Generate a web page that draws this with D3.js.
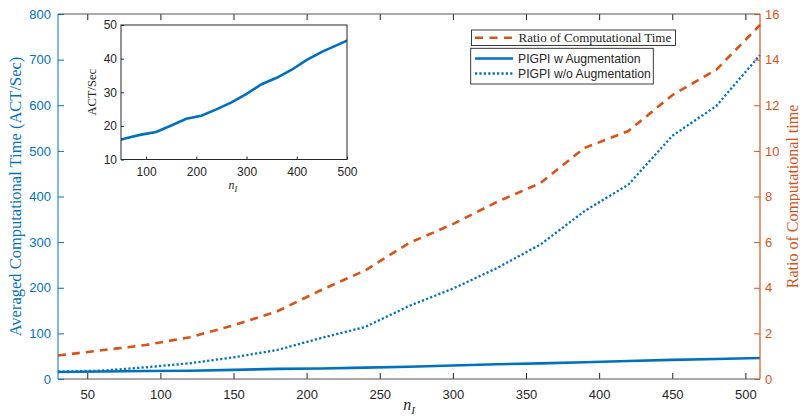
<!DOCTYPE html>
<html><head><meta charset="utf-8">
<script src="https://cdn.jsdelivr.net/npm/d3@7"></script>
<style>body{margin:0;background:#fff} svg{display:block}</style>
</head><body><svg id="c" width="800" height="419"></svg>
<script>
// ---- data ----
const nI = [30,60,90,120,150,180,210,240,270,300,330,360,390,420,450,480,510];
const actWith = [15.2,16.3,17.4,18.2,20.1,22.1,23.0,24.9,27.0,29.5,32.4,34.3,36.7,39.6,42.0,44.0,46.0];
const actWithout = [16,18.3,25.6,34.4,47.5,63.6,89.9,114,160,198,243,295,368,426,533,598,710];
const ratio = [1.03,1.26,1.49,1.83,2.35,2.97,3.9,4.76,5.96,6.79,7.76,8.59,10.13,10.87,12.44,13.55,15.52];
const xTicks = [50,100,150,200,250,300,350,400,450,500];
const leftTicks = [0,100,200,300,400,500,600,700,800];
const rightTicks = [0,2,4,6,8,10,12,14,16];
const insetXTicks = [100,200,300,400,500];
const insetYTicks = [10,20,30,40,50];
const leftTitle = "Averaged Computational Time (ACT/Sec)";
const rightTitle = "Ratio of Computational time";
const legend1 = ["Ratio of Computational Time"];
const legend2 = ["PIGPI w Augmentation","PIGPI w/o Augmentation"];

const BLUE = "#0072BD", ORANGE = "#D95319", DARK = "#262626";
const SANS = "'Liberation Sans', Arial, Helvetica, sans-serif";
const SERIF = "'Liberation Serif', 'Times New Roman', serif";

const svg = d3.select("#c");
const L = 58, R = 760, T = 14, B = 379;
const x = d3.scaleLinear().domain([30,510]).range([L,R]);
const yL = d3.scaleLinear().domain([0,800]).range([B,T]);
const yR = d3.scaleLinear().domain([0,16]).range([B,T]);

// lines
const idx = d3.range(nI.length);
svg.append("path").attr("d", d3.line().x(i=>x(nI[i])).y(i=>yR(ratio[i]))(idx))
  .attr("fill","none").attr("stroke",ORANGE).attr("stroke-width",2.6).attr("stroke-dasharray","8,6");
svg.append("path").attr("d", d3.line().x(i=>x(nI[i])).y(i=>yL(actWithout[i]))(idx))
  .attr("fill","none").attr("stroke",BLUE).attr("stroke-width",2.3).attr("stroke-dasharray","2.2,2.2");
svg.append("path").attr("d", d3.line().x(i=>x(nI[i])).y(i=>yL(actWith[i]))(idx))
  .attr("fill","none").attr("stroke",BLUE).attr("stroke-width",2.6);

// axes
function style(g, color, fs){
  g.select(".domain").remove();
  g.selectAll(".tick line").attr("stroke",color);
  g.selectAll(".tick text").attr("fill",color).attr("font-family",SANS).attr("font-size",fs);
}
const gb = svg.append("g").attr("transform",`translate(0,${B})`)
  .call(d3.axisBottom(x).tickValues(xTicks).tickSizeInner(-6).tickSizeOuter(0).tickPadding(11));
style(gb, DARK, 13);
const gt = svg.append("g").attr("transform",`translate(0,${T})`)
  .call(d3.axisTop(x).tickValues(xTicks).tickSizeInner(-6).tickSizeOuter(0).tickFormat(""));
style(gt, DARK, 13);
svg.append("line").attr("x1",L).attr("x2",R).attr("y1",B).attr("y2",B).attr("stroke","#555").attr("stroke-width",1.2);
svg.append("line").attr("x1",L).attr("x2",R).attr("y1",T).attr("y2",T).attr("stroke","#555").attr("stroke-width",1);

const gl = svg.append("g").attr("transform",`translate(${L},0)`)
  .call(d3.axisLeft(yL).tickValues(leftTicks).tickSizeInner(-6).tickSizeOuter(0).tickPadding(7));
style(gl, BLUE, 13);
svg.append("line").attr("x1",L).attr("x2",L).attr("y1",T).attr("y2",B).attr("stroke",BLUE).attr("stroke-width",1);
const gr = svg.append("g").attr("transform",`translate(${R},0)`)
  .call(d3.axisRight(yR).tickValues(rightTicks).tickSizeInner(-6).tickSizeOuter(0).tickPadding(5));
style(gr, ORANGE, 13);
svg.append("line").attr("x1",R).attr("x2",R).attr("y1",T).attr("y2",B).attr("stroke",ORANGE).attr("stroke-width",1.2);

// titles
svg.append("text").attr("transform",`translate(21,${(T+B)/2}) rotate(-90)`).attr("text-anchor","middle")
  .attr("font-family",SERIF).attr("font-size",16.5).attr("fill",BLUE).text(leftTitle);
svg.append("text").attr("transform",`translate(798,${(T+B)/2}) rotate(-90)`).attr("text-anchor","middle")
  .attr("font-family",SERIF).attr("font-size",16).attr("fill",ORANGE).text(rightTitle);
function nLabel(g, cx, by, fs){
  const t = g.append("text").attr("x",cx).attr("y",by).attr("text-anchor","middle")
    .attr("font-family",SERIF).attr("font-style","italic").attr("font-size",fs).attr("fill",DARK);
  t.append("tspan").text("n");
  t.append("tspan").attr("dy",fs*0.25).attr("font-size",fs*0.7).text("I");
}
nLabel(svg, 409, 410, 16);

// inset
const iL = 121, iR = 347, iT = 25, iB = 159.5;
const ix = d3.scaleLinear().domain([50,500]).range([iL,iR]);
const iy = d3.scaleLinear().domain([10,50]).range([iB,iT]);
svg.append("rect").attr("x",iL).attr("y",iT).attr("width",iR-iL).attr("height",iB-iT).attr("fill","#fff");
svg.append("clipPath").attr("id","ic").append("rect").attr("x",iL).attr("y",iT).attr("width",iR-iL).attr("height",iB-iT);
svg.append("path").attr("clip-path","url(#ic)")
  .attr("d", d3.line().x(i=>ix(nI[i])).y(i=>iy(actWith[i]))(idx))
  .attr("fill","none").attr("stroke",BLUE).attr("stroke-width",2.6);
const ib = svg.append("g").attr("transform",`translate(0,${iB})`)
  .call(d3.axisBottom(ix).tickValues(insetXTicks).tickSizeInner(-3).tickSizeOuter(0).tickPadding(8));
style(ib, DARK, 12);
const il = svg.append("g").attr("transform",`translate(${iL},0)`)
  .call(d3.axisLeft(iy).tickValues(insetYTicks).tickSizeInner(-3).tickSizeOuter(0).tickPadding(4));
style(il, DARK, 12);
svg.append("rect").attr("x",iL).attr("y",iT).attr("width",iR-iL).attr("height",iB-iT)
  .attr("fill","none").attr("stroke",DARK).attr("stroke-width",1);
svg.append("text").attr("transform",`translate(96,${(iT+iB)/2}) rotate(-90)`).attr("text-anchor","middle")
  .attr("font-family",SERIF).attr("font-size",12.5).attr("fill",DARK).text("ACT/Sec");
nLabel(svg, 233, 189, 12);

// legend 1
svg.append("rect").attr("x",471.5).attr("y",30).attr("width",204).attr("height",15.5)
  .attr("fill","#fff").attr("stroke",DARK).attr("stroke-width",0.9);
svg.append("line").attr("x1",475).attr("x2",516).attr("y1",37.7).attr("y2",37.7)
  .attr("stroke",ORANGE).attr("stroke-width",2.6).attr("stroke-dasharray","8,6.5");
svg.append("text").attr("x",518.5).attr("y",42).attr("font-family",SERIF).attr("font-size",13)
  .attr("fill",DARK).text(legend1[0]);
// legend 2
svg.append("rect").attr("x",470.7).attr("y",48.3).attr("width",182.6).attr("height",35.7)
  .attr("fill","#fff").attr("stroke",DARK).attr("stroke-width",0.9);
svg.append("line").attr("x1",475).attr("x2",513).attr("y1",58.5).attr("y2",58.5)
  .attr("stroke",BLUE).attr("stroke-width",2.6);
svg.append("line").attr("x1",475).attr("x2",513).attr("y1",73.5).attr("y2",73.5)
  .attr("stroke",BLUE).attr("stroke-width",2.3).attr("stroke-dasharray","2.2,2.2");
legend2.forEach((t,i)=>{
  svg.append("text").attr("x",518).attr("y",63+15*i).attr("font-family",SANS).attr("font-size",12.2)
    .attr("fill",DARK).text(t);
});
</script></body></html>
